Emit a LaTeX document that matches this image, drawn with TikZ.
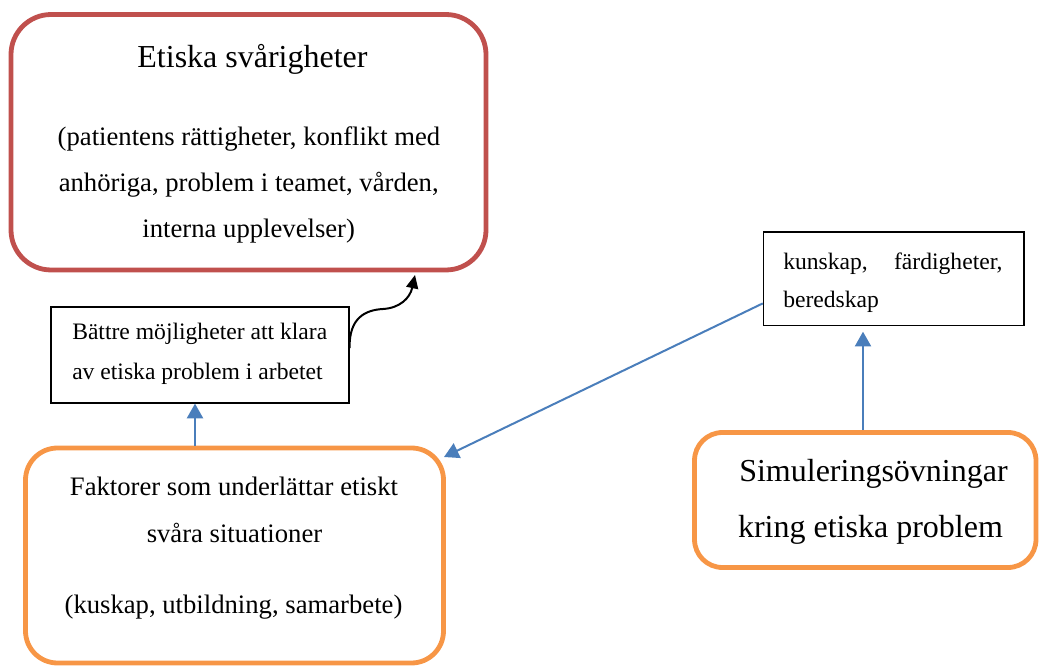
\documentclass[tikz,border=0pt]{standalone}
\usepackage{fontspec}
\setmainfont{Liberation Serif}
\usetikzlibrary{arrows.meta,calc}
\definecolor{boxred}{HTML}{C0504D}
\definecolor{boxorange}{HTML}{F79646}
\definecolor{lineblue}{HTML}{4A7EBB}
\begin{document}
\begin{tikzpicture}[x=0.75pt,y=-0.75pt,
  redbox/.style={draw=boxred, line width=3.6pt, rounded corners=30pt, inner sep=0pt},
  orangebox/.style={draw=boxorange, line width=3.6pt, inner sep=0pt},
  plainbox/.style={draw=black, line width=0.9pt, inner sep=0pt},
  txt/.style={inner sep=0pt, anchor=base},
  txtl/.style={inner sep=0pt, anchor=base west},
  headfont/.style={font=\fontsize{24pt}{28pt}\selectfont},
  bodyfont/.style={font=\fontsize{20pt}{24pt}\selectfont},
  smallfont/.style={font=\fontsize{17.7pt}{21pt}\selectfont},
  bluearrow/.style={draw=lineblue, line width=1.5pt, -{Triangle[length=11pt,width=12pt]}},
  curvearrow/.style={draw=black, line width=1.5pt, -{Triangle[length=10pt,width=9pt]}}]
\useasboundingbox (0,0) rectangle (1039,666);

% boxes
\node[redbox, minimum width=356.25pt, minimum height=191.6pt] (red) at (248.5,142.25) {};
\node[plainbox, minimum width=223.5pt, minimum height=72pt] (bat) at (200,355) {};
\node[plainbox, minimum width=195.5pt, minimum height=70.3pt] (kun) at (893.7,278.9) {};
\node[orangebox, rounded corners=24pt, minimum width=313.5pt, minimum height=161.25pt] (fak) at (234.5,555.5) {};
\node[orangebox, rounded corners=21pt, minimum width=256.1pt, minimum height=101.25pt] (sim) at (865.25,500) {};

% texts
\node[txt, headfont] (redt1) at (252.5,68) {Etiska svårigheter};
\node[txt, bodyfont] (redt2) at (249,146) {(patientens rättigheter, konflikt med};
\node[txt, bodyfont] (redt3) at (248.7,192) {anhöriga, problem i teamet, vården,};
\node[txt, bodyfont] (redt4) at (248.7,238) {interna upplevelser)};

\node[txtl, smallfont] (batt1) at (72,340) {Bättre möjligheter att klara};
\node[txtl, smallfont] (batt2) at (72,380) {av etiska problem i arbetet};

\node[txtl, smallfont] (kunt1) at (783,270) {\hbox to 164.5pt{kunskap,\hfill färdigheter,}};
\node[txtl, smallfont] (kunt2) at (783,308) {beredskap};

\node[txt, bodyfont] (fakt1) at (234,495) {Faktorer som underlättar etiskt};
\node[txt, bodyfont] (fakt2) at (234.5,542) {svåra situationer};
\node[txt, bodyfont] (fakt3) at (233.5,613) {(kuskap, utbildning, samarbete)};

\node[txt, headfont] (simt1) at (873.5,482) {Simuleringsövningar};
\node[txt, headfont] (simt2) at (870.5,537) {kring etiska problem};

% connectors
\coordinate (ax1) at (195,0);
\draw[bluearrow] (fak.north -| ax1) -- (bat.south -| ax1);
\coordinate (ax2) at (863,0);
\draw[bluearrow, shorten >=4pt] (sim.north -| ax2) -- (kun.south -| ax2);
\coordinate (fakin) at (444,457);
\draw[bluearrow] ($(kun.west)+(0,24.5)$) -- (fakin);
\coordinate (curveend) at (415,275);
\draw[curvearrow] ($(bat.east)+(0,-7)$) .. controls (349,318) and (365,310) .. (383,309) .. controls (400,308) and (410,298) .. (curveend);
\end{tikzpicture}
\end{document}
